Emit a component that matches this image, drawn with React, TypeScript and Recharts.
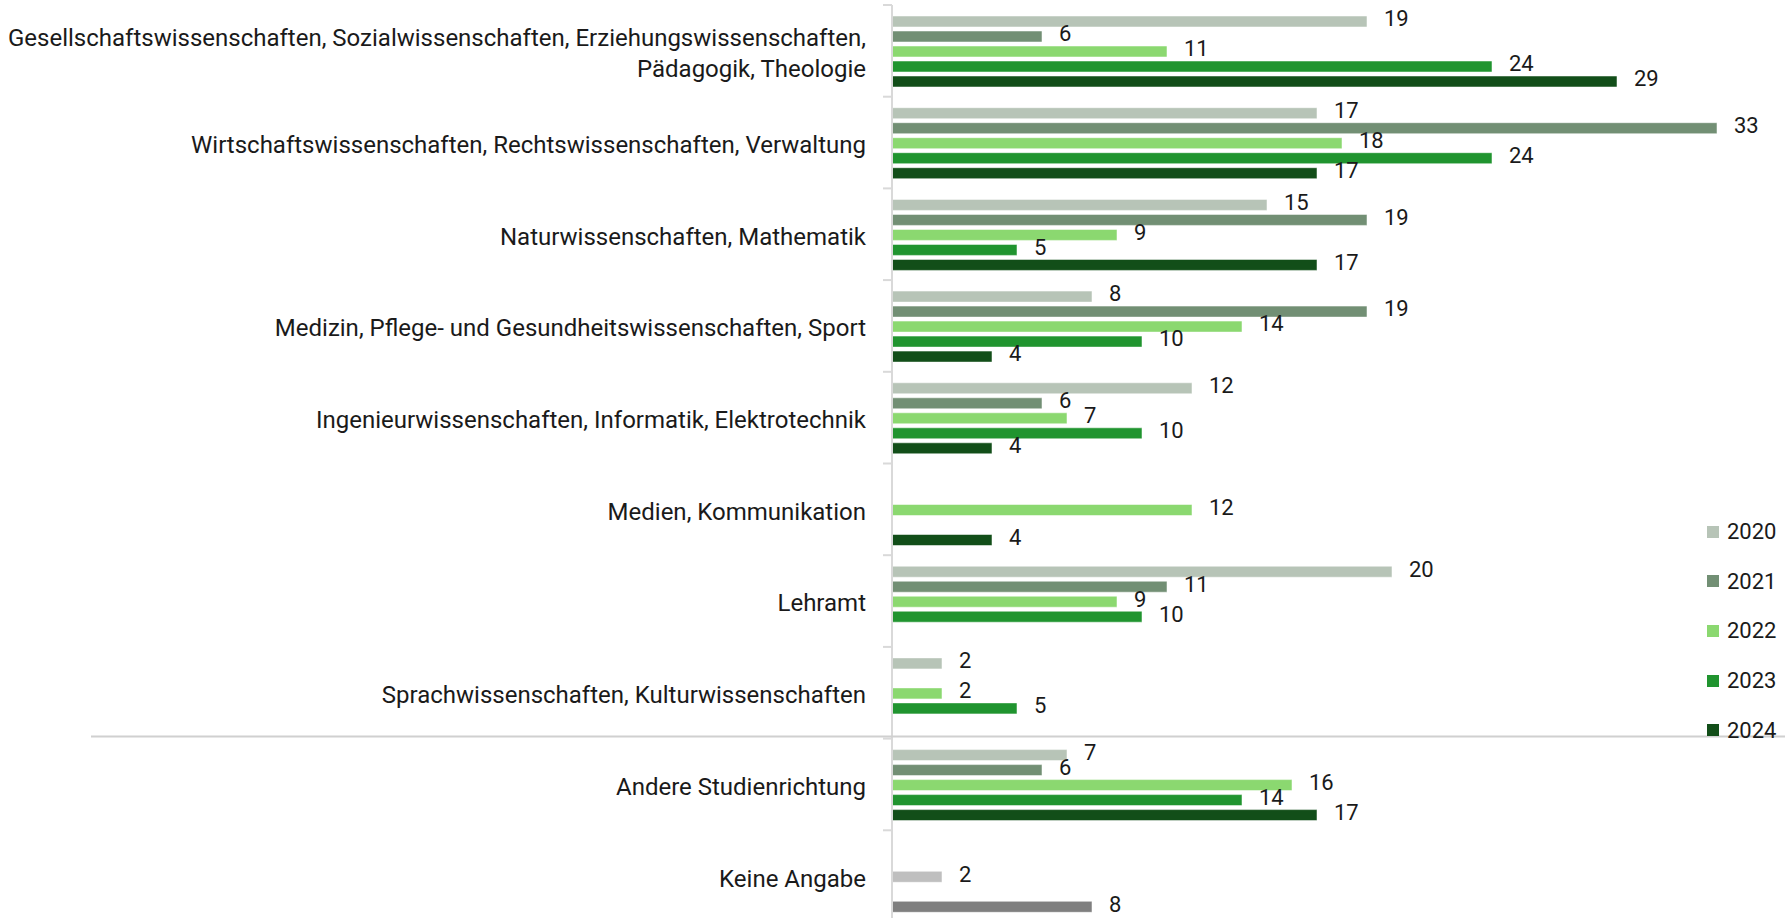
import { Bar, BarChart, Cell, LabelList, Legend, XAxis, YAxis } from "recharts";

const categories = [
  "Gesellschaftswissenschaften, Sozialwissenschaften, Erziehungswissenschaften, Pädagogik, Theologie",
  "Wirtschaftswissenschaften, Rechtswissenschaften, Verwaltung",
  "Naturwissenschaften, Mathematik",
  "Medizin, Pflege- und Gesundheitswissenschaften, Sport",
  "Ingenieurwissenschaften, Informatik, Elektrotechnik",
  "Medien, Kommunikation",
  "Lehramt",
  "Sprachwissenschaften, Kulturwissenschaften",
  "Andere Studienrichtung",
  "Keine Angabe",
];

const years = ["2020", "2021", "2022", "2023", "2024"];

const values2020 = [19, 17, 15, 8, 12, null, 20, 2, 7, null];
const values2021 = [6, 33, 19, 19, 6, null, 11, null, 6, null];
const values2022 = [11, 18, 9, 14, 7, 12, 9, 2, 16, 2];
const values2023 = [24, 24, 5, 10, 10, null, 10, 5, 14, null];
const values2024 = [29, 17, 17, 4, 4, 4, null, null, 17, 8];

const colors = ["#b7c4b7", "#728f74", "#8bd870", "#20942f", "#124e19"];
// "Keine Angabe" is drawn in greys
const greyFor: Record<string, string> = { "2022": "#bfbfbf", "2024": "#7f7f7f" };

const series = [values2020, values2021, values2022, values2023, values2024];

const data = categories.map((category, i) => {
  const row: any = { category };
  years.forEach((y, s) => {
    row[y] = series[s][i];
  });
  return row;
});

const W = 1785;
const H = 922;
const TOP = 5;
const AXIS_W = 892;
const FONT = "Roboto, 'Noto Sans', sans-serif";
const TEXT = "#1a1a1a";
const BAND = (H - TOP) / categories.length;

function wrap(label: string, max = 80) {
  const words = label.split(" ");
  const lines: string[] = [];
  let cur = "";
  words.forEach((w) => {
    const next = cur ? cur + " " + w : w;
    if (next.length > max && cur) {
      lines.push(cur);
      cur = w;
    } else cur = next;
  });
  if (cur) lines.push(cur);
  return lines;
}

function CategoryTick({ y, payload }: any) {
  const lines = wrap(payload.value);
  const top = y - BAND / 2;
  return (
    <g>
      <line x1={883} x2={AXIS_W} y1={top} y2={top} stroke="#d9d9d9" strokeWidth={2} />
      {payload.value === "Andere Studienrichtung" && (
        <line x1={91} x2={W} y1={top - 2} y2={top - 2} stroke="#d0d0d0" strokeWidth={2} />
      )}
      <text textAnchor="end" fill={TEXT} fontSize={24} fontFamily={FONT}>
        {lines.map((l, i) => (
          <tspan key={i} x={866} y={y + 2 + (i - (lines.length - 1) / 2) * 31} dy="0.35em">
            {l}
          </tspan>
        ))}
      </text>
    </g>
  );
}

function LegendContent({ payload }: any) {
  return (
    <div>
      {payload.map((p: any) => (
        <div
          key={p.value}
          style={{ display: "flex", alignItems: "center", height: 49.6, fontFamily: FONT, fontSize: 22, color: TEXT }}
        >
          <span style={{ width: 12, height: 12, background: p.color, marginRight: 8 }} />
          {p.value}
        </div>
      ))}
    </div>
  );
}

export default function App() {
  return (
    <div style={{ position: "absolute", left: 0, top: 0, width: W, height: 918, overflow: "hidden", background: "#fff" }}>
      <BarChart
        width={W}
        height={H}
        data={data}
        layout="vertical"
        margin={{ top: TOP, right: 18, bottom: 0, left: 0 }}
        barCategoryGap="12%"
        barGap={4}
      >
        <XAxis type="number" domain={[0, 35]} hide />
        <YAxis
          type="category"
          dataKey="category"
          width={AXIS_W}
          axisLine={{ stroke: "#d9d9d9", strokeWidth: 2 }}
          tickLine={false}
          tick={<CategoryTick />}
          interval={0}
        />
        <Legend
          layout="vertical"
          align="center"
          verticalAlign="middle"
          content={<LegendContent />}
          wrapperStyle={{ position: "absolute", left: 1707, top: 507, width: 78 }}
        />
        {years.map((y, s) => (
          <Bar key={y} dataKey={y} fill={colors[s]} stroke="#ffffff" strokeOpacity={0.5} isAnimationActive={false}>
            {data.map((d, i) => (
              <Cell key={i} fill={d.category === "Keine Angabe" && greyFor[y] ? greyFor[y] : colors[s]} />
            ))}
            <LabelList dataKey={y} position="right" offset={17} fill={TEXT} fontSize={22} fontFamily={FONT} dy={-3} />
          </Bar>
        ))}
      </BarChart>
    </div>
  );
}
